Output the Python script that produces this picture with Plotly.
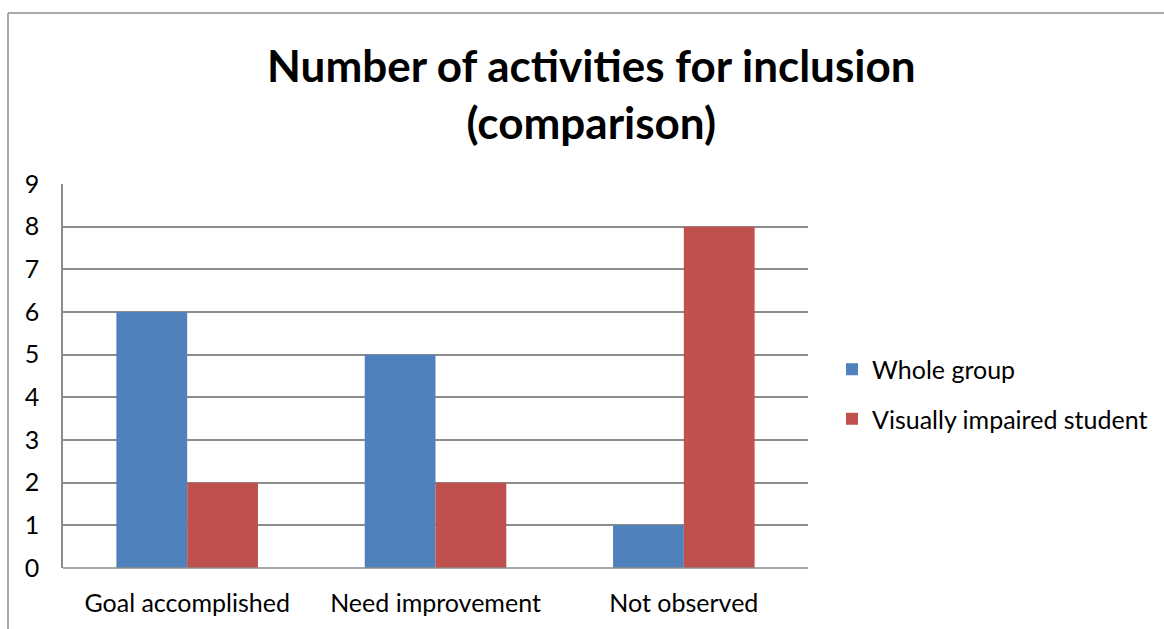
import plotly.graph_objects as go

categories = ["Goal accomplished", "Need improvement", "Not observed"]
whole_group = [6, 5, 1]
visually_impaired = [2, 2, 8]
y_ticks = list(range(0, 10))

W, H = 1164, 629
L, R, T, B = 63, 808, 184, 568
pw, ph = R - L, B - T


def px_x(p):
    return (p - L) / pw


def px_y(p):
    return (B - p) / ph


FONT = "Lato"

fig = go.Figure()
fig.add_trace(go.Bar(name="Whole group", x=categories, y=whole_group,
                     marker_color="#4F81BD", marker_line_width=0,
                     legendgroup="a"))
fig.add_trace(go.Bar(name="Visually impaired student", x=categories, y=visually_impaired,
                     marker_color="#C0504D", marker_line_width=0,
                     legendgroup="b"))

fig.update_layout(
    width=W, height=H,
    margin=dict(l=L, r=W - R, t=T, b=H - B, autoexpand=False),
    paper_bgcolor="white", plot_bgcolor="white",
    barmode="group", bargap=0.43, bargroupgap=0,
    font=dict(family=FONT, size=25, color="black"),
    title=dict(text="<b>Number of activities for inclusion<br>(comparison)</b>",
               x=0.508, xanchor="center", y=(H - 82) / H, yanchor="middle",
               font=dict(family=FONT, size=44, color="black")),
    legend=dict(x=px_x(832), xanchor="left", y=px_y(394), yanchor="middle",
                font=dict(family=FONT, size=25), tracegroupgap=14,
                itemwidth=30, bgcolor="rgba(0,0,0,0)"),
    xaxis=dict(showgrid=False, showline=False, ticks="",
               tickfont=dict(family=FONT, size=25), ticklabelstandoff=18),
    yaxis=dict(range=[0, 9], tickvals=y_ticks, showgrid=True,
               gridcolor="#8C8C8C", gridwidth=1.5, zeroline=False,
               showline=True, linecolor="#8C8C8C", linewidth=1.5,
               ticks="", tickfont=dict(family=FONT, size=25),
               ticklabelstandoff=17),
    shapes=[
        dict(type="line", xref="paper", yref="paper",
             x0=px_x(8), x1=px_x(W + 5), y0=px_y(13), y1=px_y(13),
             line=dict(color="#8C8C8C", width=1.5)),
        dict(type="line", xref="paper", yref="paper",
             x0=px_x(8), x1=px_x(8), y0=px_y(13), y1=px_y(H + 5),
             line=dict(color="#8C8C8C", width=1.5)),
        dict(type="line", xref="paper", yref="paper",
             x0=0, x1=1, y0=0, y1=0,
             line=dict(color="#8C8C8C", width=1.5)),
    ],
)

fig.write_html("out.html")
